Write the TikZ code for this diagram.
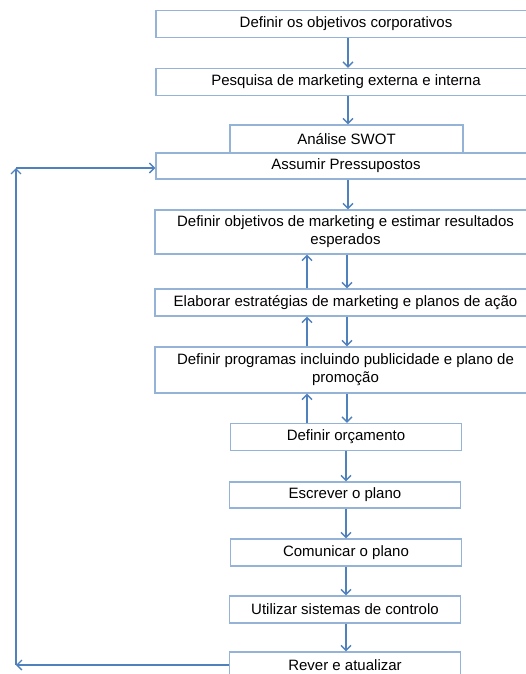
\documentclass[tikz,border=0pt]{standalone}
\usepackage{fontspec}
\setmainfont{Liberation Sans}
\usetikzlibrary{arrows.meta}
\definecolor{boxline}{RGB}{149,179,215}
\definecolor{arrline}{RGB}{79,129,189}

\begin{document}
\begin{tikzpicture}[x=1pt, y=-1pt,
		stepbox/.style={draw=boxline, line width=1.4pt, rectangle, inner sep=0pt,
			minimum height=27pt, align=center, font=\fontsize{15}{18}\selectfont},
		widebox/.style={stepbox, minimum width=380pt},
		smallbox/.style={stepbox, minimum width=231pt},
		arr/.style={draw=arrline, line width=1.3pt, -{Straight Barb[length=5pt,width=10pt]}}]
			%%%%% START %%%%%
			
			\useasboundingbox (0, 0) rectangle (525, 674);
			
			\node[widebox] (obj) at (346, 24) {Definir os objetivos corporativos};
			\node[widebox] (pesq) at (346, 82) {Pesquisa de marketing externa e interna};
			\node[smallbox, minimum width=233pt, minimum height=28pt] (swot) at (346.5, 139) {Análise SWOT};
			\node[widebox, minimum height=26pt] (assum) at (346, 166) {Assumir Pressupostos};
			
			\node[widebox, minimum width=381pt, minimum height=44pt] (metas) at (345.5, 232) {Definir objetivos de marketing e estimar resultados\\esperados};
			\node[widebox, minimum width=381pt] (estrat) at (345.5, 302.5) {Elaborar estratégias de marketing e planos de ação};
			\node[widebox, minimum width=381pt, minimum height=46pt] (progr) at (345.5, 370) {Definir programas incluindo publicidade e plano de\\promoção};
			
			\node[smallbox] (orca) at (346, 437) {Definir orçamento};
			\node[smallbox, minimum height=26pt] (escr) at (345, 495) {Escrever o plano};
			\node[smallbox] (comun) at (346, 552.5) {Comunicar o plano};
			\node[smallbox] (contr) at (345, 609.5) {Utilizar sistemas de controlo};
			\node[smallbox, minimum height=26pt] (rever) at (345, 665) {Rever e atualizar};
			
			% descida principal
			\draw[arr] ([xshift=2pt]obj.south) -- ([xshift=2pt]pesq.north);
			\draw[arr] ([xshift=2pt]pesq.south) -- ([xshift=1.5pt]swot.north);
			\draw[arr] ([xshift=2pt]assum.south) -- ([xshift=2.5pt]metas.north);
			
			% ida e volta
			\draw[arr] ([xshift=1.5pt]metas.south) -- ([xshift=1.5pt]estrat.north);
			\draw[arr] ([xshift=-38.5pt]estrat.north) -- ([xshift=-38.5pt]metas.south);
			\draw[arr] ([xshift=1.5pt]estrat.south) -- ([xshift=1.5pt]progr.north);
			\draw[arr] ([xshift=-38.5pt]progr.north) -- ([xshift=-38.5pt]estrat.south);
			\draw[arr] ([xshift=1.5pt]progr.south) -- ([xshift=1pt]orca.north);
			\draw[arr] ([xshift=-39pt]orca.north) -- ([xshift=-38.5pt]progr.south);
			
			\draw[arr] (orca.south) -- ([xshift=1pt]escr.north);
			\draw[arr] ([xshift=1pt]escr.south) -- (comun.north);
			\draw[arr] (comun.south) -- ([xshift=1pt]contr.north);
			\draw[arr] ([xshift=1pt]contr.south) -- ([xshift=1pt]rever.north);
			
			% retorno
			\coordinate (fbbaixo) at (16, 665);
			\coordinate (fbcima) at (16, 168);
			\draw[arr] (rever.west) -- (fbbaixo);
			\draw[arr] (fbbaixo) -- (fbcima);
			\draw[arr] (fbcima) -- (fbcima -| assum.west);
			
			%%%%% END %%%%%
\end{tikzpicture}
\end{document}
